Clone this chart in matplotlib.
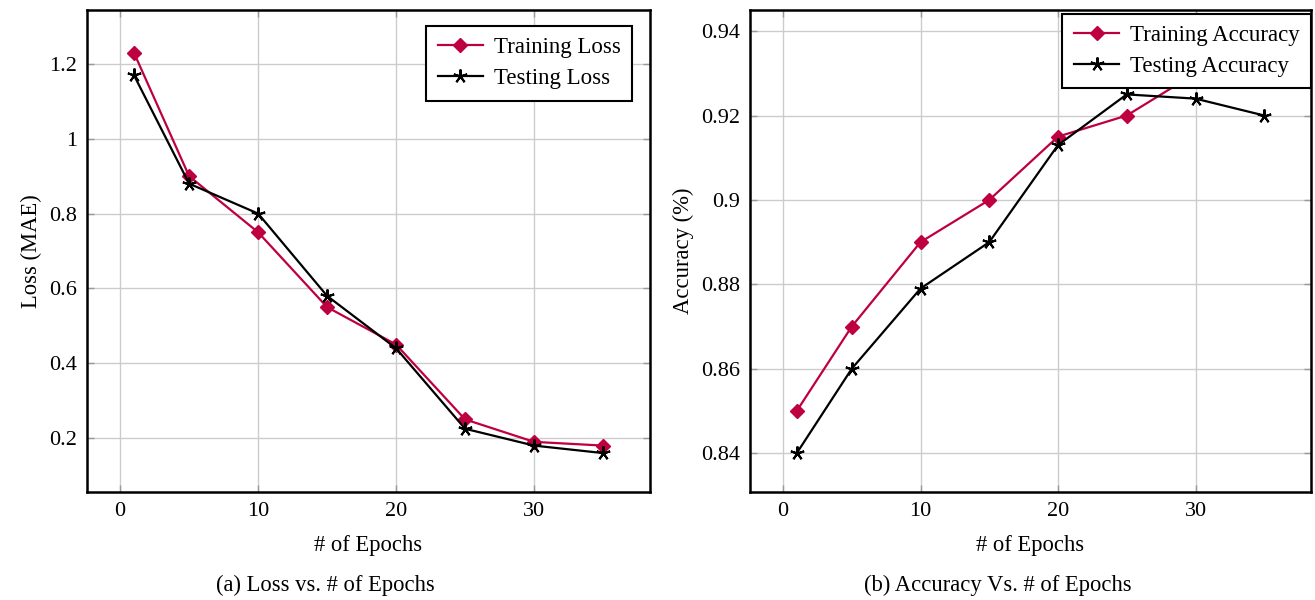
import matplotlib
matplotlib.use("Agg")
import matplotlib.pyplot as plt

plt.rcParams['font.family'] = ['Liberation Serif', 'DejaVu Serif']
plt.rcParams['mathtext.fontset'] = 'stix'

epochs = [1, 5, 10, 15, 20, 25, 30, 35]
train_loss = [1.23, 0.90, 0.75, 0.55, 0.45, 0.25, 0.19, 0.18]
test_loss = [1.17, 0.88, 0.80, 0.58, 0.44, 0.225, 0.18, 0.16]
train_acc = [0.85, 0.87, 0.89, 0.90, 0.915, 0.92, 0.93, 0.935]
test_acc = [0.84, 0.86, 0.879, 0.89, 0.913, 0.925, 0.924, 0.92]

loss_yticks = [0.2, 0.4, 0.6, 0.8, 1.0, 1.2]
loss_yticklabels = ['0.2', '0.4', '0.6', '0.8', '1', '1.2']
acc_yticks = [0.84, 0.86, 0.88, 0.90, 0.92, 0.94]
acc_yticklabels = ['0.84', '0.86', '0.88', '0.9', '0.92', '0.94']
xticks = [0, 10, 20, 30]

RED = '#BF0040'
W, H = 1315, 600
fig = plt.figure(figsize=(W / 100, H / 100), dpi=100)

ax1 = fig.add_axes([87 / W, 1 - 492 / H, 563 / W, 482 / H])
ax2 = fig.add_axes([750 / W, 1 - 492 / H, 561 / W, 482 / H])

TICK_FS = 16
LEG_FS = 16.5
LAB_FS = 16.3
STAR = (5, 2, 0)


def style(ax):
    ax.grid(True, color='#cccccc', lw=1.0)
    ax.set_axisbelow(True)
    for s in ax.spines.values():
        s.set_linewidth(1.8)
        s.set_color('black')
    ax.tick_params(direction='in', length=5, width=1.0, color='#999999',
                   top=True, right=True, labelsize=TICK_FS, pad=7)
    ax.set_xlim(-2.4, 38.4)
    ax.set_xticks(xticks)
    ax.set_xlabel('# of Epochs', fontsize=LAB_FS, labelpad=10)


def legend(ax, anchor):
    leg = ax.legend(loc='upper right', bbox_to_anchor=anchor, fontsize=LEG_FS,
                    fancybox=False, edgecolor='black', framealpha=1, handlelength=2.0,
                    borderpad=0.5, labelspacing=0.42, handletextpad=0.45,
                    borderaxespad=0.0)
    leg.get_frame().set_linewidth(1.5)
    leg.set_zorder(10)
    return leg


ax1.plot(epochs, train_loss, color=RED, lw=1.6, marker='D', ms=7, label='Training Loss')
ax1.plot(epochs, test_loss, color='black', lw=1.6, marker=STAR, ms=10, mew=1.5,
         label='Testing Loss')
style(ax1)
ax1.set_ylim(0.056, 1.344)
ax1.set_yticks(loss_yticks)
ax1.set_yticklabels(loss_yticklabels)
ax1.set_ylabel('Loss (MAE)', fontsize=LAB_FS, labelpad=5)
legend(ax1, (0.968, 0.967))

ax2.plot(epochs, train_acc, color=RED, lw=1.6, marker='D', ms=7, label='Training Accuracy')
ax2.plot(epochs, test_acc, color='black', lw=1.6, marker=STAR, ms=10, mew=1.5,
         label='Testing Accuracy')
style(ax2)
ax2.set_ylim(0.8308, 0.945)
ax2.set_yticks(acc_yticks)
ax2.set_yticklabels(acc_yticklabels)
ax2.set_ylabel('Accuracy (%)', fontsize=LAB_FS, labelpad=5)
legend(ax2, (1.0, 0.992))

fig.text(325 / W, 1 - 585 / H, '(a) Loss vs. # of Epochs', ha='center', va='center',
         fontsize=LAB_FS)
fig.text(998 / W, 1 - 585 / H, '(b) Accuracy Vs. # of Epochs', ha='center', va='center',
         fontsize=LAB_FS)

fig.savefig('out.png', dpi=100)
